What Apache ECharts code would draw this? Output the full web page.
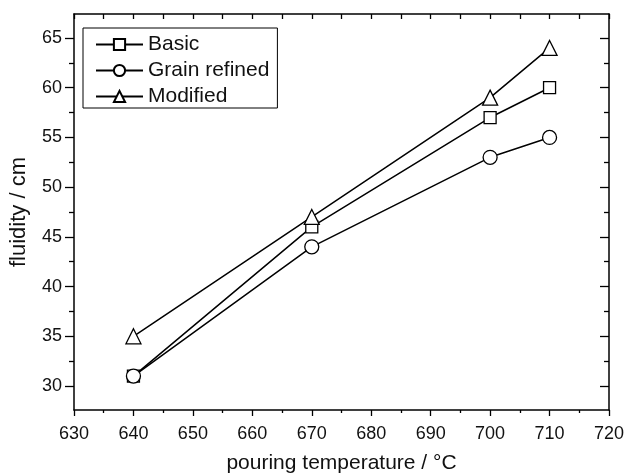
<!DOCTYPE html>
<html>
<head>
<meta charset="utf-8">
<script src="https://cdn.jsdelivr.net/npm/echarts@6/dist/echarts.min.js"></script>
<style>
  html, body { margin: 0; padding: 0; background: #fff; }
  #chart { width: 627px; height: 473px; }
</style>
</head>
<body>
<div id="chart"></div>
<script>
const temperatures = [640, 670, 700, 710]
const basic = [31, 46, 57, 60]
const grainRefined = [31, 44, 53, 55]
const modified = [35, 47, 59, 64]

const font = 'Liberation Sans, Arial, sans-serif'
const black = '#000'

const chart = echarts.init(document.getElementById('chart'))

const pairs = (ys) => temperatures.map((t, i) => [t, ys[i]])

const lineSeries = (name, ys, symbol, size) => ({
  name,
  type: 'line',
  xAxisIndex: 2,
  yAxisIndex: 2,
  data: pairs(ys),
  symbol,
  symbolSize: size,
  showAllSymbol: true,
  lineStyle: { color: black, width: 1.5 },
  itemStyle: { color: '#fff', borderColor: black, borderWidth: 1.3 },
  emphasis: { disabled: true },
  z: 3,
})

const frame = { show: true, lineStyle: { color: black, width: 1.5 } }

chart.setOption({
  animation: false,
  grid: [
    // frame of the plot, 27.5 .. 67.5
    { left: 74, right: 18, top: 14, bottom: 63, containLabel: false, outerBoundsMode: 'none' },
    // labelled range, 30 .. 65
    { left: 74, right: 18, top: 38, bottom: 87, containLabel: false, outerBoundsMode: 'none' },
  ],
  xAxis: [
    {
      gridIndex: 0,
      type: 'value',
      position: 'bottom',
      min: 630,
      max: 720,
      interval: 10,
      axisLine: frame,
      axisTick: { show: true, length: 6, lineStyle: { color: black, width: 1.3 } },
      minorTick: { show: true, splitNumber: 2, length: 3, lineStyle: { color: black, width: 1.3 } },
      axisLabel: { color: '#111', fontSize: 18, fontFamily: font, margin: 15 },
      splitLine: { show: false },
      name: 'pouring temperature / °C',
      nameLocation: 'middle',
      nameGap: 43,
      nameTextStyle: { color: '#111', fontSize: 21, fontFamily: font },
    },
    {
      gridIndex: 0,
      type: 'value',
      position: 'top',
      min: 630,
      max: 720,
      interval: 5,
      axisLine: frame,
      axisTick: { show: true, inside: true, length: 5, lineStyle: { color: black, width: 1.3 } },
      axisLabel: { show: false },
      splitLine: { show: false },
    },
    {
      gridIndex: 1,
      type: 'value',
      min: 630,
      max: 720,
      show: false,
    },
  ],
  yAxis: [
    {
      gridIndex: 0,
      type: 'value',
      position: 'left',
      min: 27.5,
      max: 67.5,
      axisLine: frame,
      axisTick: { show: false },
      axisLabel: { show: false },
      splitLine: { show: false },
      name: 'fluidity / cm',
      nameLocation: 'middle',
      nameGap: 44,
      nameTextStyle: { color: '#111', fontSize: 22, fontFamily: font },
    },
    {
      gridIndex: 0,
      type: 'value',
      position: 'right',
      min: 27.5,
      max: 67.5,
      axisLine: frame,
      axisTick: { show: false },
      axisLabel: { show: false },
      splitLine: { show: false },
    },
    {
      gridIndex: 1,
      type: 'value',
      position: 'left',
      min: 30,
      max: 65,
      interval: 5,
      axisLine: { show: false },
      axisTick: { show: true, length: 9, lineStyle: { color: black, width: 1.3 } },
      minorTick: { show: true, splitNumber: 2, length: 5, lineStyle: { color: black, width: 1.3 } },
      axisLabel: { color: '#111', fontSize: 18, fontFamily: font, margin: 12 },
      splitLine: { show: false },
    },
    {
      gridIndex: 1,
      type: 'value',
      position: 'right',
      min: 30,
      max: 65,
      interval: 5,
      axisLine: { show: false },
      axisTick: { show: true, inside: true, length: 9, lineStyle: { color: black, width: 1.3 } },
      minorTick: { show: true, splitNumber: 2, length: 5, lineStyle: { color: black, width: 1.3 } },
      axisLabel: { show: false },
      splitLine: { show: false },
    },
  ],
  legend: {
    left: 83,
    top: 28,
    orient: 'vertical',
    itemWidth: 47,
    itemHeight: 14,
    itemGap: 5,
    padding: [6, 8, 1, 12],
    borderColor: black,
    borderWidth: 1,
    textStyle: { color: '#111', fontSize: 21, fontFamily: font },
    data: ['Basic', 'Grain refined', 'Modified'],
  },
  series: [
    lineSeries('Basic', basic, 'rect', 12),
    lineSeries('Grain refined', grainRefined, 'circle', 14),
    lineSeries('Modified', modified, 'triangle', 15),
  ],
})
</script>
</body>
</html>
